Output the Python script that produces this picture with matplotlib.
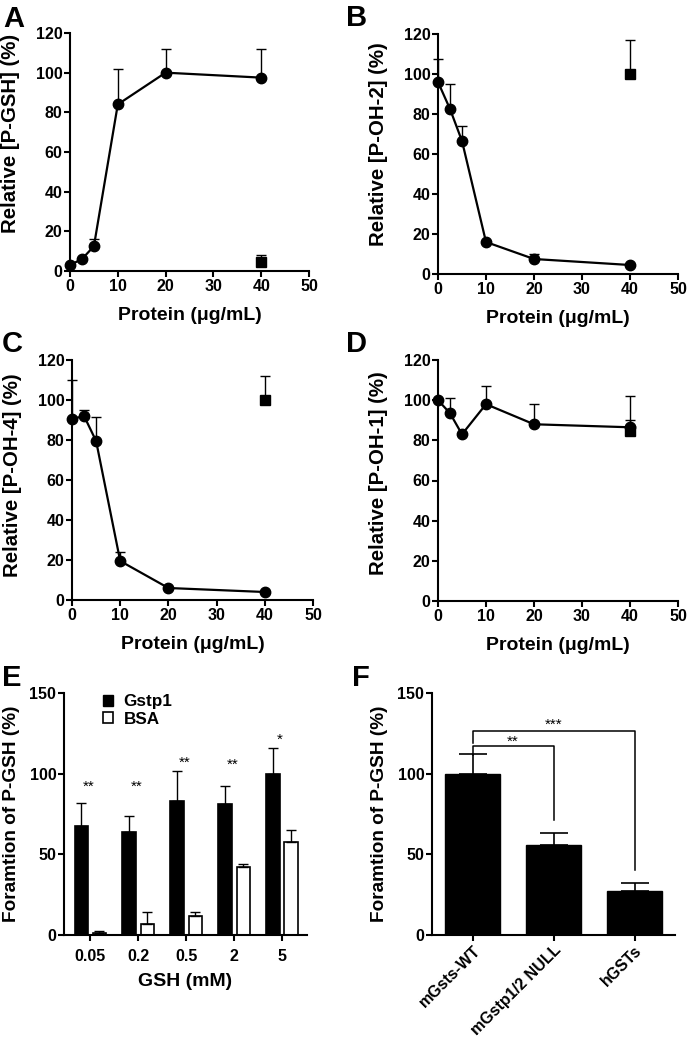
import matplotlib
matplotlib.use("Agg")
import matplotlib.pyplot as plt
import numpy as np
from matplotlib.patches import Patch

plt.rcParams['font.family'] = ['Liberation Sans', 'DejaVu Sans']
plt.rcParams['font.weight'] = 'bold'
plt.rcParams['axes.labelweight'] = 'bold'

# ---------------- data ----------------
protein = [0, 2.5, 5, 10, 20, 40]

a_vals = [3, 6, 12.5, 84, 100, 97.5]
a_err = [0, 0, 3.5, 18, 12, 14.5]
a_ctrl, a_ctrl_err = 4.5, 3.5

b_vals = [96, 82.5, 66.5, 16, 7.5, 4.5]
b_err = [11.5, 12.5, 7.5, 0, 2.5, 0]
b_ctrl, b_ctrl_err = 100, 17

c_vals = [90.5, 92, 79.5, 19.5, 6, 4]
c_err = [19.5, 3, 12, 4.5, 0, 0]
c_ctrl, c_ctrl_err = 100, 12

d_vals = [100, 93.5, 83, 98, 88, 86.5]
d_err = [0, 7.5, 0, 9, 10, 15.5]
d_ctrl, d_ctrl_err = 84.5, 5.5

gsh_labels = ['0.05', '0.2', '0.5', '2', '5']
gstp1_vals = [67.5, 64, 83, 81, 100]
gstp1_err = [14.5, 9.5, 18.5, 11.5, 16]
bsa_vals = [1.5, 7, 12, 42, 57.5]
bsa_err = [1, 7.5, 2.5, 2, 7.5]
e_stars = ['**', '**', '**', '**', '*']
e_star_y = [92, 92, 106.5, 105.5, 121]

f_labels = ['mGsts-WT', 'mGstp1/2 NULL', 'hGSTs']
f_vals = [100, 55.5, 27.5]
f_err = [12, 7.5, 4.5]

W, H = 690, 1048
fig = plt.figure(figsize=(W / 100, H / 100), dpi=100)


def ax_px(l, r, t, b):
    return fig.add_axes([l / W, 1 - b / H, (r - l) / W, (b - t) / H])


def style(ax, xpad=1.5):
    for s in ['top', 'right']:
        ax.spines[s].set_visible(False)
    for s in ['left', 'bottom']:
        ax.spines[s].set_linewidth(1.5)
    ax.tick_params(width=1.5, length=4, labelsize=11.5, pad=1.5)
    ax.tick_params(axis='x', pad=xpad)
    for t in ax.get_xticklabels() + ax.get_yticklabels():
        t.set_fontweight('bold')


def line_panel(ax, vals, err, ctrl, ctrl_err, ylabel, ylab_y):
    ax.errorbar(protein, vals, yerr=[np.zeros(len(err)), err], fmt='none',
                ecolor='black', elinewidth=1.0, capsize=3.8, capthick=1.0,
                zorder=2, clip_on=False)
    ax.errorbar([40], [ctrl], yerr=[[0], [ctrl_err]], fmt='none',
                ecolor='black', elinewidth=1.0, capsize=3.8, capthick=1.0,
                zorder=2, clip_on=False)
    ax.plot(protein, vals, '-o', color='black', lw=1.6, ms=7.5, zorder=3,
            clip_on=False)
    ax.plot([40], [ctrl], 's', color='black', ms=7, zorder=4, clip_on=False)
    ax.set_xlim(0, 50)
    ax.set_ylim(0, 120)
    ax.set_xticks([0, 10, 20, 30, 40, 50])
    ax.set_yticks([0, 20, 40, 60, 80, 100, 120])
    style(ax)
    ax.set_xlabel('Protein (μg/mL)', fontsize=14, fontweight='bold')
    ax.set_ylabel(ylabel, fontsize=14.7, fontweight='bold')
    ax.xaxis.set_label_coords(0.5, -0.15)
    ax.yaxis.set_label_coords(-0.209, ylab_y)


axA = ax_px(70, 309, 33, 271)
line_panel(axA, a_vals, a_err, a_ctrl, a_ctrl_err, 'Relative [P-GSH] (%)', 0.58)
axB = ax_px(438, 678, 34, 274)
line_panel(axB, b_vals, b_err, b_ctrl, b_ctrl_err, 'Relative [P-OH-2] (%)', 0.54)
axC = ax_px(72, 313, 360, 600)
line_panel(axC, c_vals, c_err, c_ctrl, c_ctrl_err, 'Relative [P-OH-4] (%)', 0.52)
axD = ax_px(438, 678, 360, 601)
line_panel(axD, d_vals, d_err, d_ctrl, d_ctrl_err, 'Relative [P-OH-1] (%)', 0.53)

# ---------------- panel E ----------------
axE = ax_px(64, 307, 693, 935)
xe = np.arange(len(gsh_labels))
bw = 0.28
off = 0.19
axE.bar(xe - off, gstp1_vals, bw, color='black', edgecolor='black', lw=1.2,
        yerr=[np.zeros(5), gstp1_err], capsize=3.6, error_kw=dict(elinewidth=1.0, capthick=1.0),
        label='Gstp1', zorder=2)
axE.bar(xe + off, bsa_vals, bw, color='white', edgecolor='black', lw=1.2,
        yerr=[np.zeros(5), bsa_err], capsize=3.6, error_kw=dict(elinewidth=1.0, capthick=1.0),
        label='BSA', zorder=2)
for x, s, y in zip(xe, e_stars, e_star_y):
    axE.text(x - 0.04, y, s, ha='center', va='center', fontsize=11, fontweight='normal')
axE.set_xlim(-0.55, 4.52)
axE.set_ylim(0, 150)
axE.set_yticks([0, 50, 100, 150])
axE.set_xticks(xe)
axE.set_xticklabels(gsh_labels)
style(axE, xpad=6)
axE.set_xlabel('GSH (mM)', fontsize=14, fontweight='bold')
axE.set_ylabel('Foramtion of P-GSH (%)', fontsize=13.7, fontweight='bold')
axE.xaxis.set_label_coords(0.5, -0.157)
axE.yaxis.set_label_coords(-0.181, 0.5)
handles = [Patch(facecolor='black', edgecolor='black'),
           Patch(facecolor='white', edgecolor='black', lw=1.2)]
axE.legend(handles, ['Gstp1', 'BSA'], loc='upper left', bbox_to_anchor=(0.16, 0.995),
           frameon=False, handlelength=0.62, handleheight=0.62, borderpad=0,
           borderaxespad=0, handletextpad=0.6, labelspacing=0.15,
           prop={'weight': 'bold', 'size': 12.3})

# ---------------- panel F ----------------
axF = ax_px(432, 675, 693, 935)
xf = np.arange(len(f_labels))
axF.bar(xf, f_vals, 0.67, color='black', edgecolor='black',
        yerr=[np.zeros(3), f_err], capsize=10, error_kw=dict(elinewidth=1.2, capthick=1.2),
        zorder=2)
axF.set_xlim(-0.5, 2.5)
axF.set_ylim(0, 150)
axF.set_yticks([0, 50, 100, 150])
axF.set_xticks(xf)
axF.set_xticklabels(f_labels, rotation=45, ha='right', rotation_mode='anchor')
style(axF)
axF.set_ylabel('Foramtion of P-GSH (%)', fontsize=13.7, fontweight='bold')
axF.yaxis.set_label_coords(-0.181, 0.5)
# significance brackets
axF.plot([0, 0, 1, 1], [111.6, 117.2, 117.2, 71.5], color='black', lw=1.1)
axF.plot([0, 0, 2, 2], [119, 126.5, 126.5, 40.3], color='black', lw=1.1)
axF.text(0.5, 119.8, '**', ha='center', va='center', fontsize=11, fontweight='normal')
axF.text(1.0, 130.5, '***', ha='center', va='center', fontsize=11, fontweight='normal')

# panel letters
for lab, x, y in [('A', 3, 5), ('B', 346, 4), ('C', 2, 330), ('D', 346, 330),
                  ('E', 2, 664), ('F', 352, 664)]:
    fig.text(x / W, 1 - y / H, lab, fontsize=21, fontweight='bold', va='top', ha='left')

fig.savefig('out.png', dpi=100, facecolor='white')
